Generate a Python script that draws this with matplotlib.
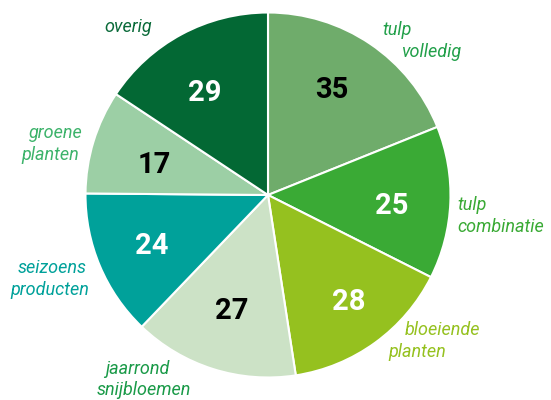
import numpy as np
import matplotlib.pyplot as plt

labels = [['tulp', 'volledig'], ['tulp', 'combinatie'], ['bloeiende', 'planten'],
          ['jaarrond', 'snijbloemen'], ['seizoens', 'producten'], ['groene', 'planten'],
          ['overig']]
values = [35, 25, 28, 27, 24, 17, 29]

colors = ['#6fac6b', '#3aaa35', '#95c11f', '#cce2c6', '#00a19a', '#9ccfa5', '#036834']
text_colors = ['#22a04a', '#3aaa35', '#95c11f', '#1a9a48', '#00a19a', '#3db36b', '#0b6b3a']
num_colors = ['black', 'white', 'white', 'black', 'white', 'black', 'white']

# number placement: distance from centre and angle tweak (degrees)
num_dist = [0.686, 0.679, 0.72, 0.648, 0.69, 0.65, 0.67]
num_dang = [3.5, -1.3, 2.0, -0.2, -0.5, 1.0, 2.8]

# label line centres (pie radius = 1)
label_pos = [[(0.710, 0.902), (0.896, 0.781)],
             [(1.038, -0.055), (1.038, -0.175)],
             [(0.956, -0.738), (0.817, -0.858)],
             [(-0.716, -0.951), (-0.680, -1.071)],
             [(-1.183, -0.399), (-1.197, -0.519)],
             [(-1.161, 0.339), (-1.191, 0.219)],
             [(-0.768, 0.918)]]
label_ha = ['center', 'left', 'center', 'center', 'center', 'center', 'center']

fig = plt.figure(figsize=(5.51, 4), dpi=100)
ax = fig.add_axes([0, 0, 1, 1])

wedges, texts = ax.pie(values, colors=colors, startangle=90, counterclock=False,
                       radius=1, wedgeprops=dict(edgecolor='white', linewidth=1.5))

total = sum(values)
start = 90
for v, c, d, da in zip(values, num_colors, num_dist, num_dang):
    ang = np.deg2rad(start - v / total * 360 / 2 + da)
    start -= v / total * 360
    ax.text(d * np.cos(ang), d * np.sin(ang) - 0.017, str(v), ha='center', va='center',
            fontsize=21, fontweight='bold', color=c, family='Roboto', zorder=5)

for lines, pos, ha, c in zip(labels, label_pos, label_ha, text_colors):
    for line, (x, y) in zip(lines, pos):
        ax.text(x, y, line, ha=ha, va='center', fontsize=13, style='italic', color=c,
                family='Roboto', zorder=5)

ax.set_xlim(-268 / 182.5, 283 / 182.5)
ax.set_ylim(-205 / 182.5, 195 / 182.5)
ax.set_aspect('equal')
ax.axis('off')

plt.savefig('out.png', dpi=100)
